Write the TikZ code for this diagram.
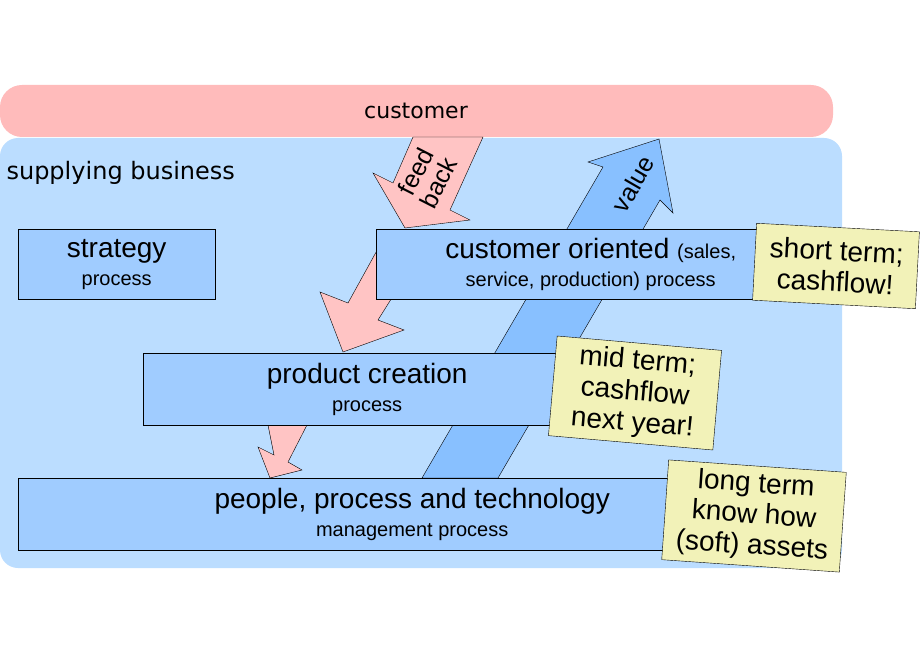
\documentclass[tikz,border=0pt]{standalone}
\usepackage{fontspec}
\setmainfont{Liberation Sans}
\newfontfamily\dejavu{DejaVu Sans}
\usetikzlibrary{positioning}
\definecolor{custpink}{HTML}{FFBBBB}
\definecolor{bizblue}{HTML}{BBDDFF}
\definecolor{boxblue}{HTML}{A0CCFF}
\definecolor{valblue}{HTML}{88C0FF}
\definecolor{arrpink}{HTML}{FFC4C4}
\definecolor{noteyellow}{HTML}{F2F2B8}
\tikzset{
  proc/.style={draw=black, fill=boxblue, anchor=north west, inner sep=0pt, align=center,
    font=\fontsize{28}{32}\selectfont},
  note/.style={draw=black, fill=noteyellow, minimum width=#1, align=center,
    font=\fontsize{28}{31}\selectfont, inner sep=2pt},
}
\newcommand{\sub}[1]{{\fontsize{20}{22}\selectfont #1}}
\begin{document}
\begin{tikzpicture}[x=1pt,y=-1pt]
  \useasboundingbox (0,0) rectangle (920,660);
  % background areas
  \fill[custpink] (0,85) [rounded corners=22pt] rectangle (833,137);
  \node[font=\dejavu\fontsize{22}{26}\selectfont] (cust) at (416,111) {customer};
  \fill[bizblue, rounded corners=18pt] (0,138) rectangle (842,568);
  \node[anchor=west, font=\dejavu\fontsize{24}{28}\selectfont] (biz) at (3,173) {supplying business};
  % feedback arrows
  \draw[fill=arrpink] (413,137) -- (483,137) -- (450,210) -- (470,220) -- (405,228)
      -- (373,173) -- (393,183) -- cycle;
  \node[rotate=63, align=center, font=\fontsize{25}{25}\selectfont] (fb) at (427,177) {feed\\back};
  \draw[fill=arrpink] (380,245) -- (425,245) -- (378,320) -- (404,330) -- (343,352)
      -- (320,292) -- (348,303) -- cycle;
  \draw[fill=arrpink] (268,425) -- (307,425) -- (288,462) -- (302,470) -- (270,478)
      -- (258,447) -- (274,455) -- cycle;
  % value arrow
  \draw[fill=valblue] (422,478) -- (603,167) -- (588,162) -- (659,139) -- (673,213)
      -- (660,200) -- (498,478) -- cycle;
  \node[rotate=60, font=\fontsize{25}{25}\selectfont] (val) at (633,184) {value};
  % processes
  \node[proc, minimum width=197, minimum height=70] (strat) at (18,229)
      {strategy\\[-4pt]\sub{process}};
  \node[proc, minimum width=429, minimum height=70] (custor) at (376,229)
      {customer oriented \sub{(sales,}\\[-4pt]\sub{service, production) process}};
  \node[proc, minimum width=448, minimum height=72] (prodcr) at (143,353)
      {product creation\\[-4pt]\sub{process}};
  \node[proc, minimum width=788, minimum height=72] (ppt) at (18,478)
      {people, process and technology\\[-4pt]\sub{management process}};
  % notes
  \node[note=163pt, minimum height=77, rotate=-3] (short) at (836,266) {short term;\\cashflow!};
  \node[note=165pt, minimum height=100, rotate=-5] (mid) at (635,393) {mid term;\\cashflow\\next year!};
  \node[note=178pt, minimum height=100, rotate=-4] (long) at (754,516) {long term\\know how\\(soft) assets};
\end{tikzpicture}
\end{document}
